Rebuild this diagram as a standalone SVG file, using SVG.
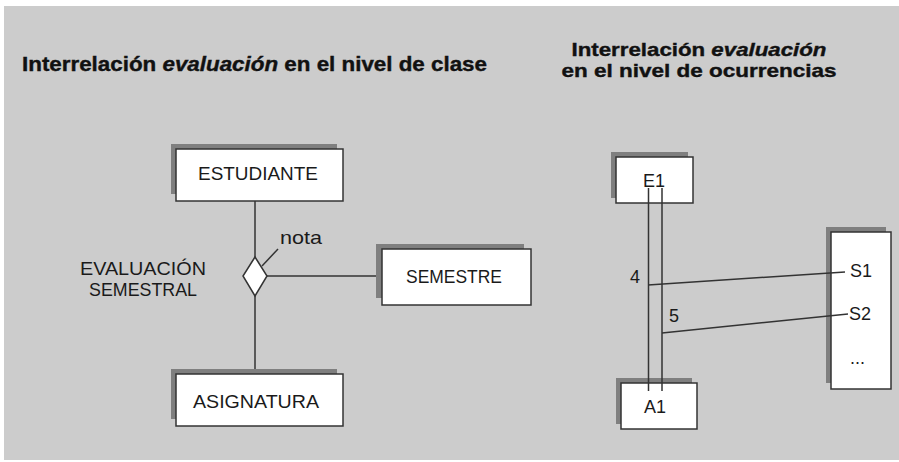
<svg xmlns="http://www.w3.org/2000/svg" width="899" height="462" viewBox="0 0 899 462">
<style>
.bg{fill:#cccccc}
.box{fill:#ffffff;stroke:#333333;stroke-width:1.5}
.sh{fill:#7f7f7f}
.ln{fill:none;stroke:#333333;stroke-width:1.5}
.t{font-family:"Liberation Sans",Arial,sans-serif;font-size:19px;fill:#1a1a1a}
.s{font-size:18px}
.m{text-anchor:middle}
.title{font-family:"Liberation Sans",Arial,sans-serif;font-size:21px;font-weight:bold;fill:#111111;stroke:#111111;stroke-width:0.4}
.t2{font-size:19px}
</style>
<rect class="bg" x="4" y="6" width="895" height="454"/>
<g id="titles">
<text class="title" x="22" y="71" textLength="465" lengthAdjust="spacingAndGlyphs">Interrelación <tspan font-style="italic">evaluación</tspan> en el nivel de clase</text>
<text class="title t2 m" x="699" y="56" textLength="255" lengthAdjust="spacingAndGlyphs">Interrelación <tspan font-style="italic">evaluación</tspan></text>
<text class="title t2 m" x="699" y="77" textLength="275" lengthAdjust="spacingAndGlyphs">en el nivel de ocurrencias</text>
</g>
<g id="connectors">
<line class="ln" x1="255" y1="201" x2="255" y2="257"/>
<line class="ln" x1="255" y1="296" x2="255" y2="374"/>
<line class="ln" x1="267" y1="276" x2="382" y2="276"/>
<line class="ln" x1="262" y1="266" x2="278" y2="249"/>
</g>
<g id="estudiante">
<rect class="sh" x="171" y="144" width="166" height="50"/>
<rect class="box" x="176" y="149" width="167" height="52"/>
<text class="t m" x="258" y="180" textLength="120" lengthAdjust="spacingAndGlyphs">ESTUDIANTE</text>
</g>
<g id="asignatura">
<rect class="sh" x="171" y="369" width="166" height="50"/>
<rect class="box" x="176" y="374" width="167" height="52"/>
<text class="t m" x="256" y="408" textLength="126" lengthAdjust="spacingAndGlyphs">ASIGNATURA</text>
</g>
<g id="semestre">
<rect class="sh" x="376" y="244" width="148" height="54"/>
<rect class="box" x="382" y="249" width="149" height="56"/>
<text class="t m" x="454" y="283" textLength="96" lengthAdjust="spacingAndGlyphs">SEMESTRE</text>
</g>
<g id="evaluacion">
<polygon class="box" points="255,257 267,276 255,296 243,276"/>
<text class="t m" x="143" y="275" textLength="126" lengthAdjust="spacingAndGlyphs">EVALUACIÓN</text>
<text class="t m" x="143" y="296" textLength="108" lengthAdjust="spacingAndGlyphs">SEMESTRAL</text>
<text class="t" x="280" y="244" textLength="42" lengthAdjust="spacingAndGlyphs">nota</text>
</g>
<g id="e1">
<rect class="sh" x="611" y="152" width="77" height="46"/>
<rect class="box" x="616" y="157" width="77" height="46"/>
<text class="t s m" x="654" y="187">E1</text>
</g>
<g id="a1">
<rect class="sh" x="616" y="378" width="76" height="46"/>
<rect class="box" x="621" y="383" width="76" height="46"/>
<text class="t s m" x="655" y="413">A1</text>
</g>
<g id="s">
<rect class="sh" x="826" y="227" width="60" height="156"/>
<rect class="box" x="831" y="232" width="60" height="157"/>
<text class="t s" x="850" y="277">S1</text>
<text class="t s" x="849" y="320">S2</text>
<text class="t s" x="850" y="364">...</text>
</g>
<g id="occurrence-links">
<line class="ln" x1="648.5" y1="188" x2="648.5" y2="391"/>
<line class="ln" x1="662" y1="188" x2="662" y2="391"/>
<line class="ln" x1="648" y1="285" x2="845" y2="272"/>
<line class="ln" x1="662" y1="333" x2="848" y2="314"/>
<text class="t s" x="630" y="283">4</text>
<text class="t s" x="669" y="322">5</text>
</g>
</svg>
